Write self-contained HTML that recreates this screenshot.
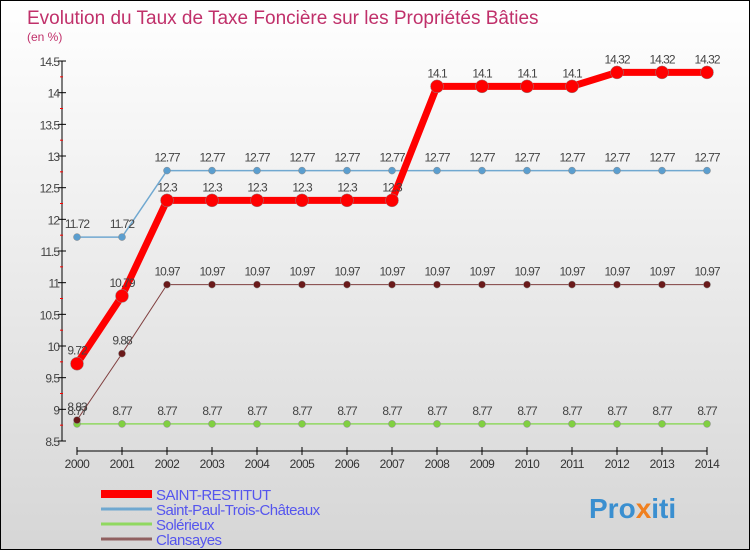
<!DOCTYPE html>
<html><head><meta charset="utf-8"><style>
body{margin:0}
#c{width:750px;height:550px;position:relative;overflow:hidden;background:linear-gradient(#ffffff,#d6d6d6);font-family:"Liberation Sans",sans-serif;box-sizing:border-box;border:1px solid #000}
</style></head><body>
<div id="c">
<svg id="s" width="750" height="550" style="position:absolute;left:0;top:0">
<text x="26" y="23" font-size="19" fill="#c0306a">Evolution du Taux de Taxe Foncière sur les Propriétés Bâties</text>
<text x="26" y="40" font-size="12" fill="#c0306a">(en %)</text>
<g id="g"></g>
<text x="588" y="517" font-size="28" font-weight="bold" fill="#3a8fd0">Pro<tspan fill="#f08020">x</tspan>iti</text>
</svg>
</div>
<script>
const years=[2000,2001,2002,2003,2004,2005,2006,2007,2008,2009,2010,2011,2012,2013,2014];
const yTicks=[8.5,9,9.5,10,10.5,11,11.5,12,12.5,13,13.5,14,14.5];
const saintRestitut=[9.72,10.79,12.3,12.3,12.3,12.3,12.3,12.3,14.1,14.1,14.1,14.1,14.32,14.32,14.32];
const saintPaul=[11.72,11.72,12.77,12.77,12.77,12.77,12.77,12.77,12.77,12.77,12.77,12.77,12.77,12.77,12.77];
const solerieux=[8.77,8.77,8.77,8.77,8.77,8.77,8.77,8.77,8.77,8.77,8.77,8.77,8.77,8.77,8.77];
const clansayes=[8.83,9.88,10.97,10.97,10.97,10.97,10.97,10.97,10.97,10.97,10.97,10.97,10.97,10.97,10.97];
const seriesNames=["SAINT-RESTITUT","Saint-Paul-Trois-Châteaux","Solérieux","Clansayes"];
const X=i=>76+i*45;
const Y=v=>440-(v-8.5)*63.33;
const g=document.getElementById('g');
const NS="http://www.w3.org/2000/svg";
function mk(t,a,p){const e=document.createElementNS(NS,t);for(const k in a)e.setAttribute(k,a[k]);(p||g).appendChild(e);return e;}
let e=mk('line',{x1:61,y1:Y(14.5),x2:61,y2:Y(8.5),stroke:'#000'});

e=mk('line',{x1:X(0),y1:450,x2:X(14),y2:450,stroke:'#000'});

yTicks.forEach((v,i)=>{
  mk('line',{x1:57,x2:65,y1:Y(v),y2:Y(v),stroke:'#000'});
  if(i<yTicks.length-1)mk('line',{x1:59,x2:62,y1:Y(v+0.25),y2:Y(v+0.25),stroke:'#f00'});
  const t=mk('text',{x:58,y:Y(v)+5,'text-anchor':'end','font-size':12,fill:'#444','letter-spacing':'-1'});t.textContent=v;
  
});
years.forEach((y,i)=>{
  mk('line',{x1:X(i),x2:X(i),y1:446,y2:454,stroke:'#000'});
  const t=mk('text',{x:X(i),y:467,'text-anchor':'middle','font-size':12,fill:'#333','letter-spacing':'-0.5'});t.textContent=y;
  
});
function series(data,color,w,r,dot,name){
  const pg=mk('g',{});
  
  mk('polyline',{points:data.map((v,i)=>X(i)+','+Y(v)).join(' '),fill:'none',stroke:color,'stroke-width':w},pg);
  data.forEach((v,i)=>{
    const c=mk('circle',{cx:X(i),cy:Y(v),r:r,fill:dot,stroke:'#888','stroke-width':0.5},pg);
    
    const t=mk('text',{x:X(i),y:Y(v)-9,'text-anchor':'middle','font-size':12,fill:'#444','letter-spacing':'-1'},pg);t.textContent=v;
  });
}
series(solerieux,'#90d860',1.5,3.5,'#80d040','series-solerieux');
series(clansayes,'#804040',1,3.5,'#6a1a1a','series-clansayes');
series(saintPaul,'#70a8d0',1.5,3.5,'#5b9ecf','series-saint-paul');
series(saintRestitut,'#f00',7,6.5,'#f00','series-saint-restitut');
const lc=['#f00','#70a8d0','#90d860','#906060'],lw=[8,3,3,3];
seriesNames.forEach((n,i)=>{
  const yy=493+i*15;
  const l=mk('line',{x1:100,x2:151,y1:yy,y2:yy,stroke:lc[i],'stroke-width':lw[i]});
  
  const t=mk('text',{x:155,y:yy+6,'font-size':15,fill:'#5555ee','letter-spacing':'-0.5'});t.textContent=n;
  
});
</script>
</body></html>
